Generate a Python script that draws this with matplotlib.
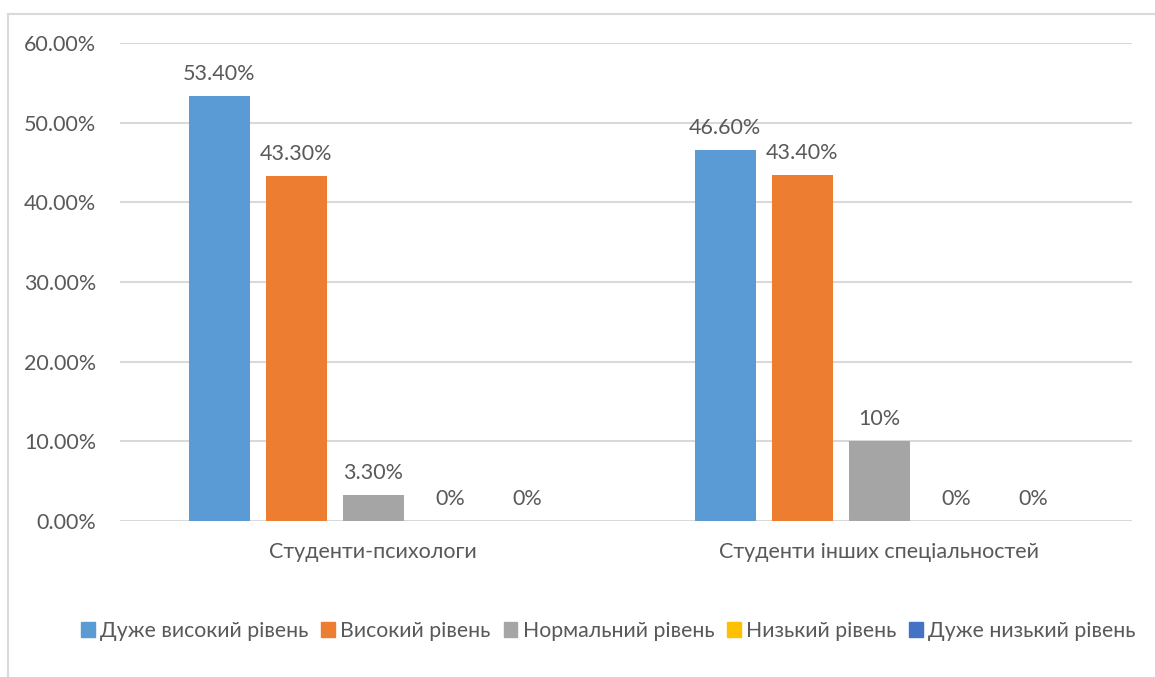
import numpy as np
import matplotlib.pyplot as plt
from matplotlib.patches import Patch

plt.rcParams['font.family'] = ['Lato', 'DejaVu Sans']

categories = ["Студенти-психологи", "Студенти інших спеціальностей"]
series = ["Дуже високий рівень", "Високий рівень", "Нормальний рівень",
          "Низький рівень", "Дуже низький рівень"]
values = [
    [53.4, 46.6],
    [43.3, 43.4],
    [3.3, 10.0],
    [0.0, 0.0],
    [0.0, 0.0],
]
value_labels = [
    ["53.40%", "46.60%"],
    ["43.30%", "43.40%"],
    ["3.30%", "10%"],
    ["0%", "0%"],
    ["0%", "0%"],
]
colors = ["#5b9bd5", "#ed7d31", "#a5a5a5", "#ffc000", "#4472c4"]
text_col = "#595959"
fs = 15.5

fig = plt.figure(figsize=(11.55, 6.77), dpi=100)
ax = fig.add_axes([120/1155, 1 - 521/677, 1012/1155, 478/677])

x = np.arange(len(categories))
w = 61/506
step = 77/506
for i, (s, vals) in enumerate(zip(series, values)):
    pos = x + (i - 2) * step
    ax.bar(pos, vals, width=w, color=colors[i], zorder=3)
    for p, v, lab in zip(pos, vals, value_labels[i]):
        ax.text(p, v + 1.5, lab, ha='center', va='bottom', fontsize=fs, color=text_col)

ax.set_xlim(-0.5, 1.5)
ax.set_ylim(0, 60)
ax.set_yticks(np.arange(0, 61, 10))
ax.set_yticklabels([f"{t:.2f}%" for t in np.arange(0, 61, 10)])
ax.set_xticks(x)
ax.set_xticklabels(categories)
ax.tick_params(axis='both', length=0, labelsize=fs, colors=text_col)
ax.tick_params(axis='y', pad=17)
ax.tick_params(axis='x', pad=15)
ax.grid(axis='y', color='#d9d9d9', linewidth=1.5, zorder=0)
for sp in ax.spines.values():
    sp.set_visible(False)

handles = [Patch(color=c) for c in colors]
fig.legend(handles, series, loc='center left', bbox_to_anchor=(62/1155, 1 - 631/677),
           ncol=5, frameon=False, fontsize=15.3, labelcolor=text_col,
           handlelength=0.65, handleheight=0.65, handletextpad=0.25, columnspacing=0.6)

# chart border (top and left visible)
fig.add_artist(plt.Line2D([8/1155, 1], [1 - 14/677, 1 - 14/677], color='#d9d9d9', lw=1.5))
fig.add_artist(plt.Line2D([8/1155, 8/1155], [0, 1 - 14/677], color='#d9d9d9', lw=1.5))

fig.savefig("out.png", dpi=100)
